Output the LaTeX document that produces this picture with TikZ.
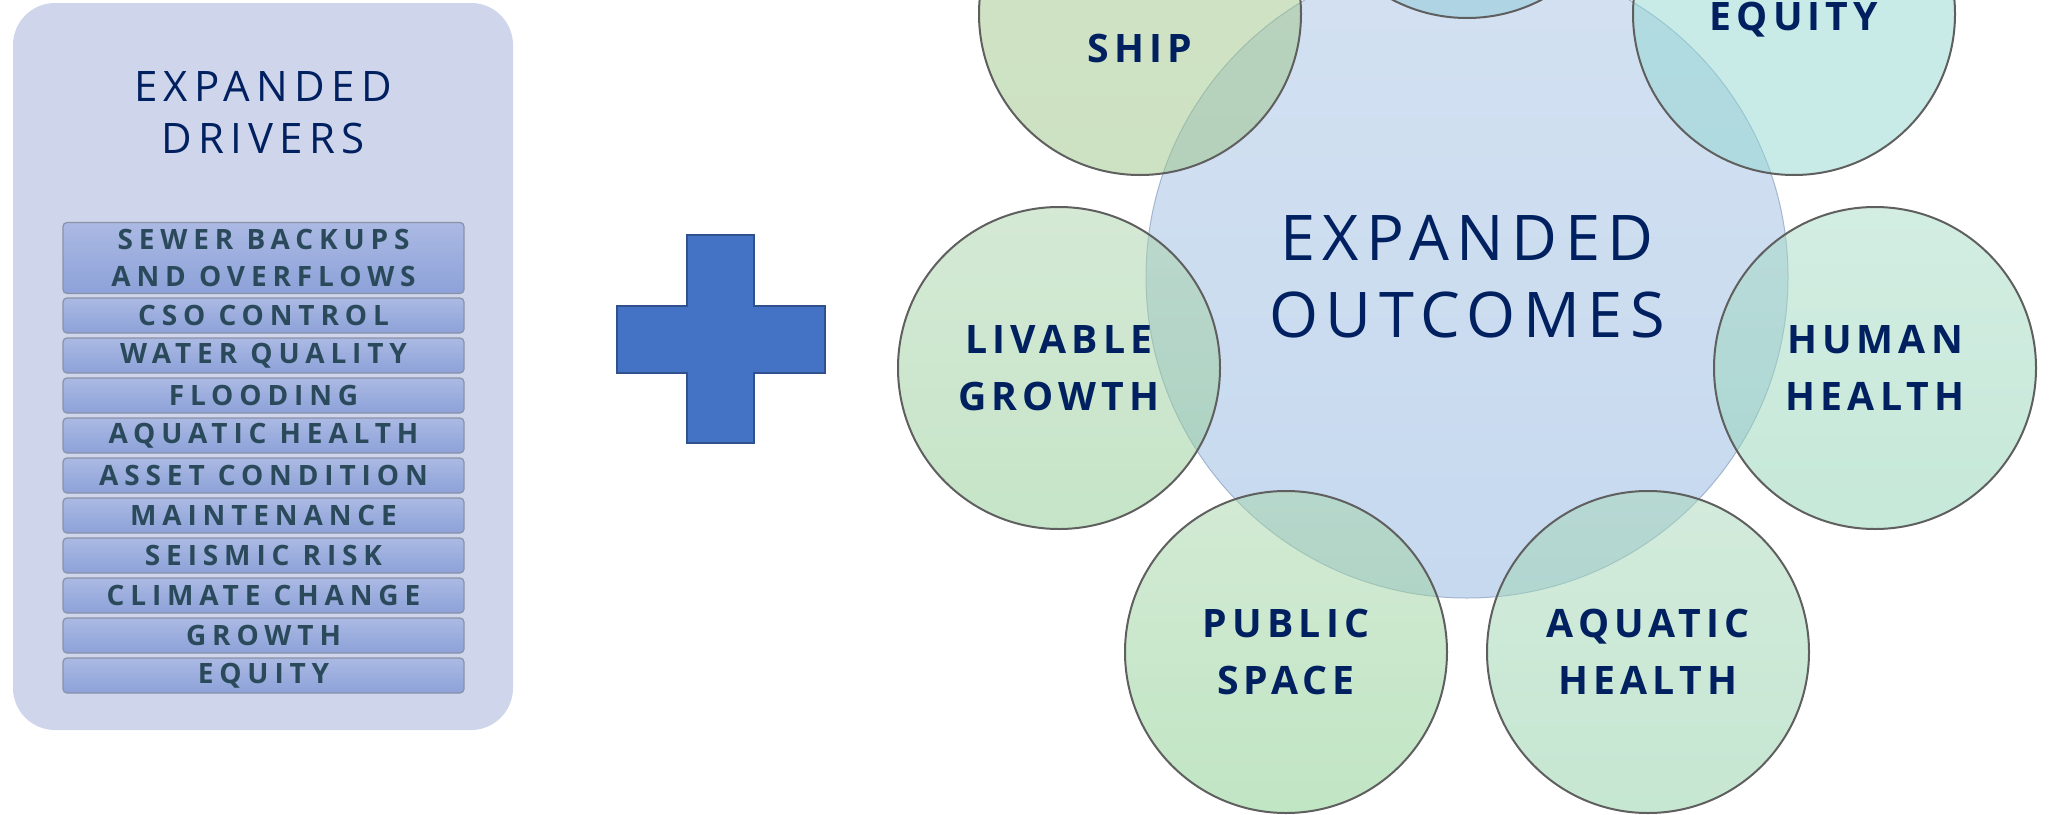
\documentclass[tikz,border=0pt]{standalone}
\usepackage{fontspec}
\setmainfont{Open Sans}
\newfontfamily\titlefont[LetterSpace=15]{Open Sans}
\newfontfamily\bigfont[LetterSpace=12]{Open Sans}
\newfontfamily\circfont[LetterSpace=13]{Open Sans}
\newfontfamily\barfont[LetterSpace=21]{Open Sans}

\definecolor{navy}{HTML}{002060}
\definecolor{panelfill}{HTML}{CFD5EA}
\definecolor{bartop}{HTML}{ABB9E3}
\definecolor{barbot}{HTML}{8DA2D9}
\definecolor{bargray}{HTML}{8A92A8}
\definecolor{bartext}{HTML}{2A4A5C}
\definecolor{plusfill}{HTML}{4472C4}
\definecolor{plusline}{HTML}{2F528F}
\definecolor{bigtop}{HTML}{D3E1F1}
\definecolor{bigbot}{HTML}{C6D9EF}
\definecolor{bigline}{HTML}{A3B5CF}
\definecolor{circline}{HTML}{5F5F5F}
\definecolor{livtop}{HTML}{ABD3AB}
\definecolor{livbot}{HTML}{8DCB91}
\definecolor{pubtop}{HTML}{A7D5A9}
\definecolor{pubbot}{HTML}{83CD89}
\definecolor{aqutop}{HTML}{A7D7B9}
\definecolor{aqubot}{HTML}{8DCFA5}
\definecolor{humtop}{HTML}{A7DBC5}
\definecolor{humbot}{HTML}{8DD3B3}
\definecolor{shiptop}{HTML}{A5C78D}
\definecolor{shipbot}{HTML}{9BC587}
\definecolor{equfill}{HTML}{91D7D1}
\definecolor{topfill}{HTML}{8DCBDB}

\begin{document}
\begin{tikzpicture}[
    x=0.5pt, y=-0.5pt,
    panel/.style={rectangle, rounded corners=21pt, fill=panelfill, minimum width=250pt, minimum height=363.5pt, inner sep=0pt},
    drivertitle/.style={align=center, text=navy, font={\titlefont\fontsize{21}{26}\selectfont}},
    driver/.style={rectangle, rounded corners=2pt, draw=bargray, line width=0.6pt, top color=bartop, bottom color=barbot, minimum width=200.5pt, minimum height=17.5pt, inner sep=0pt, align=center, text=bartext, font={\barfont\bfseries\fontsize{14}{18.5}\selectfont}},
    plus/.style={fill=plusfill, draw=plusline, line width=1pt},
    big/.style={circle, minimum size=321pt, inner sep=0pt, top color=bigtop, bottom color=bigbot, draw=bigline, line width=0.5pt, align=center, text=navy, font={\bigfont\fontsize{31.5}{38.5}\selectfont}},
    outcome/.style={circle, minimum size=161pt, inner sep=0pt, draw=circline, line width=1pt, fill opacity=0.5, draw opacity=1, text opacity=1, align=center, text=navy, font={\circfont\bfseries\fontsize{19.6}{28.5}\selectfont}},
    outtext/.style={text=navy, font={\circfont\bfseries\fontsize{19.6}{28.5}\selectfont}}
    ]
\clip (0,0) rectangle (2051,814);

% Drivers panel
\node[panel] (drivers) at (263,366.5) {};
\node[drivertitle] (drivers title) at (263,113) {EXPANDED\\DRIVERS};

\node[driver, minimum height=35.5pt] (sewer) at (263.5,258) {SEWER BACKUPS\\AND OVERFLOWS};
\node[driver] (cso) at (263.5,315.5) {CSO CONTROL};
\node[driver] (water) at (263.5,355.5) {WATER QUALITY};
\node[driver] (flooding) at (263.5,395.5) {FLOODING};
\node[driver] (aquatic) at (263.5,435.5) {AQUATIC HEALTH};
\node[driver] (asset) at (263.5,475.5) {ASSET CONDITION};
\node[driver] (maint) at (263.5,515.5) {MAINTENANCE};
\node[driver] (seismic) at (263.5,555.5) {SEISMIC RISK};
\node[driver] (climate) at (263.5,595.5) {CLIMATE CHANGE};
\node[driver] (growth) at (263.5,635.5) {GROWTH};
\node[driver] (equity) at (263.5,675.5) {EQUITY};

% Plus sign
\draw[plus] (617,306) -- (687,306) -- (687,235) -- (754,235) -- (754,306) -- (825,306)
    -- (825,373) -- (754,373) -- (754,443) -- (687,443) -- (687,373) -- (617,373) -- cycle;

% Outcomes
\node[big] (outcomes) at (1467,277) {EXPANDED\\OUTCOMES};

\node[outcome, top color=topfill, bottom color=topfill] (top) at (1467,-143) {};
\node[outcome, top color=equfill, bottom color=equfill] (eq) at (1794,14) {};
\node[outtext] (eq text) at (1794,20) {EQUITY};
\node[outcome, top color=humtop, bottom color=humbot] (human) at (1875,368) {HUMAN\\HEALTH};
\node[outcome, top color=aqutop, bottom color=aqubot] (aqua) at (1648,652) {AQUATIC\\HEALTH};
\node[outcome, top color=pubtop, bottom color=pubbot] (public) at (1286,652) {PUBLIC\\SPACE};
\node[outcome, top color=livtop, bottom color=livbot] (livable) at (1059,368) {LIVABLE\\GROWTH};
\node[outcome, top color=shiptop, bottom color=shipbot] (ship) at (1140,14) {};
\node[outtext] (ship text) at (1140,48) {SHIP};

\end{tikzpicture}
\end{document}
